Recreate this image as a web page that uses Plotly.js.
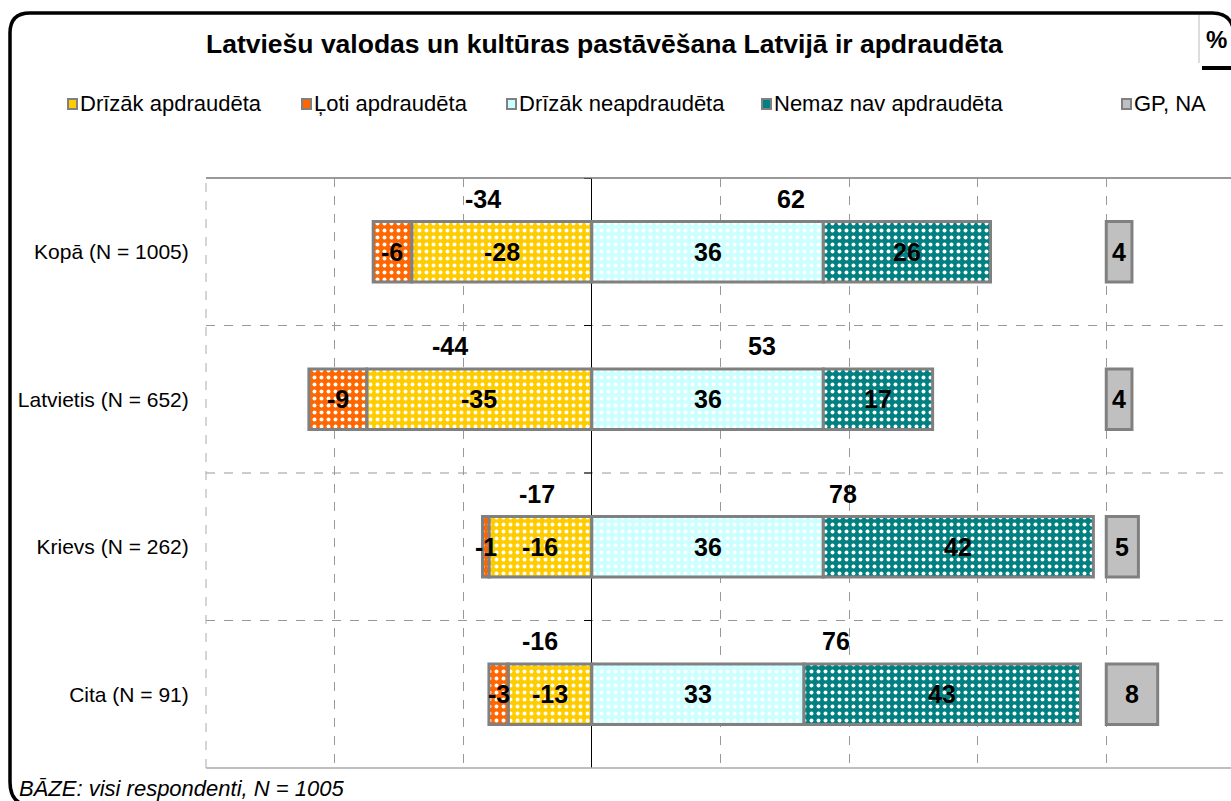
<!DOCTYPE html>
<html>
<head>
<meta charset="utf-8">
<script src="https://cdn.plot.ly/plotly-3.0.1.min.js"></script>
<style>html,body{margin:0;padding:0;background:#fff;}#chart{width:1231px;height:801px;}</style>
</head>
<body>
<div id="chart"></div>
<script>
// ---- data ----
const categories = ['Kopā (N = 1005)', 'Latvietis (N = 652)', 'Krievs (N = 262)', 'Cita (N = 91)'];
const drizakApdraudeta = [-28, -35, -16, -13];
const lotiApdraudeta = [-6, -9, -1, -3];
const drizakNeapdraudeta = [36, 36, 36, 33];
const nemazNavApdraudeta = [26, 17, 42, 43];
const gpNa = [4, 4, 5, 8];
const totalNegative = [-34, -44, -17, -16];
const totalPositive = [62, 53, 78, 76];
const seriesNames = ['Drīzāk apdraudēta', 'Ļoti apdraudēta', 'Drīzāk neapdraudēta', 'Nemaz nav apdraudēta', 'GP, NA'];
const chartTitle = 'Latviešu valodas un kultūras pastāvēšana Latvijā ir apdraudēta';
const baseNote = 'BĀZE: visi respondenti, N = 1005';

// ---- styling / layout helpers ----
const FONT = 'Liberation Sans, Arial, sans-serif';
const colors = ['#FFCC00', '#FF6600', '#CCFFFF', '#008080', '#C0C0C0'];
const gpOffset = 80;
const L = 206, R = 1231, T = 178, B = 768;
const px = x => (x - L) / (R - L);
const py = y => (B - y) / (B - T);

const zeros = categories.map(() => 0);
const gpBase = categories.map(() => gpOffset);

function patternBar(name, x, base, color, patterned) {
  const marker = {color: color, line: {color: '#808080', width: 3}};
  if (patterned) {
    marker.pattern = {shape: '.', fgcolor: '#ffffff', bgcolor: color, size: 7, solidity: 0.25, fillmode: 'replace'};
  }
  return {type: 'bar', orientation: 'h', name: name, y: categories, x: x, base: base,
          width: 0.41, marker: marker, hoverinfo: 'skip', textposition: 'none'};
}

const traces = [
  patternBar(seriesNames[0], drizakApdraudeta, zeros, colors[0], true),
  patternBar(seriesNames[1], lotiApdraudeta, drizakApdraudeta, colors[1], true),
  patternBar(seriesNames[2], drizakNeapdraudeta, zeros, colors[2], true),
  patternBar(seriesNames[3], nemazNavApdraudeta, drizakNeapdraudeta, colors[3], true),
  patternBar(seriesNames[4], gpNa, gpBase, colors[4], false)
];

const annotations = [];
const labelFont = {family: FONT, size: 25, color: '#000'};
function barLabels(vals, bases) {
  vals.forEach((v, i) => {
    annotations.push({x: bases[i] + v / 2, y: categories[i], xref: 'x', yref: 'y', text: '<b>' + v + '</b>',
      showarrow: false, font: labelFont, xanchor: 'center', yanchor: 'middle'});
  });
}
barLabels(drizakApdraudeta, zeros);
barLabels(lotiApdraudeta, drizakApdraudeta);
barLabels(drizakNeapdraudeta, zeros);
barLabels(nemazNavApdraudeta, drizakNeapdraudeta);
barLabels(gpNa, gpBase);
totalNegative.forEach((v, i) => {
  annotations.push({x: v / 2, y: categories[i], xref: 'x', yref: 'y', yshift: 53, text: '<b>' + v + '</b>',
    showarrow: false, font: labelFont, xanchor: 'center', yanchor: 'middle'});
});
totalPositive.forEach((v, i) => {
  annotations.push({x: v / 2, y: categories[i], xref: 'x', yref: 'y', yshift: 53, text: '<b>' + v + '</b>',
    showarrow: false, font: labelFont, xanchor: 'center', yanchor: 'middle'});
});

// title
annotations.push({x: px(604), y: py(44), xref: 'paper', yref: 'paper', text: '<b>' + chartTitle + '</b>',
  showarrow: false, font: {family: FONT, size: 26.5, color: '#000'}, xanchor: 'center', yanchor: 'middle'});
// percent sign
annotations.push({x: px(1216), y: py(40), xref: 'paper', yref: 'paper', text: '<b>%</b>',
  showarrow: false, font: {family: FONT, size: 24, color: '#000'}, xanchor: 'center', yanchor: 'middle'});
// base note
annotations.push({x: px(17), y: py(788), xref: 'paper', yref: 'paper', text: '<i>' + baseNote + '</i>',
  showarrow: false, font: {family: FONT, size: 22, color: '#000'}, xanchor: 'left', yanchor: 'middle'});

// custom legend
const legendX = [68, 302, 507, 762, 1122];
const shapes = [];
seriesNames.forEach((n, i) => {
  shapes.push({type: 'rect', xref: 'paper', yref: 'paper', x0: px(legendX[i]), x1: px(legendX[i] + 9),
    y0: py(109), y1: py(99), fillcolor: colors[i], line: {color: '#808080', width: 2}, layer: 'above'});
  annotations.push({x: px(legendX[i] + 10), y: py(104), xref: 'paper', yref: 'paper', text: n,
    showarrow: false, font: {family: FONT, size: 22, color: '#000'}, xanchor: 'left', yanchor: 'middle'});
});

// plot frame lines
shapes.push({type: 'line', xref: 'paper', yref: 'paper', x0: 0, x1: 1, y0: 1, y1: 1, line: {color: '#999999', width: 2}});
shapes.push({type: 'line', xref: 'paper', yref: 'paper', x0: 0, x1: 1, y0: 0, y1: 0, line: {color: '#aaaaaa', width: 1.5}});
shapes.push({type: 'line', xref: 'paper', yref: 'paper', x0: 0, x1: 0, y0: 0, y1: 1,
  line: {color: '#aaaaaa', width: 1, dash: 'dash'}, layer: 'below'});
[0.5, 1.5, 2.5].forEach(yv => {
  shapes.push({type: 'line', xref: 'paper', yref: 'y', x0: 0, x1: 1, y0: yv, y1: yv,
    line: {color: '#999999', width: 1, dash: 'dash'}, layer: 'below'});
});
[-0.5, 0.5, 1.5, 2.5].forEach(yv => {
  shapes.push({type: 'line', xref: 'x', yref: 'y', x0: -1.2, x1: 0, y0: yv, y1: yv, line: {color: '#000', width: 1}});
});

// outer rounded border
const bp = (x, y) => px(x) + ',' + py(y);
shapes.push({type: 'path', xref: 'paper', yref: 'paper',
  path: 'M' + bp(1212, 13) + ' L' + bp(30, 13) + ' Q' + bp(10, 13) + ' ' + bp(10, 33) +
        ' L' + bp(10, 782) + ' Q' + bp(10, 804) + ' ' + bp(30, 806) + ' L' + bp(1240, 806),
  line: {color: '#000', width: 3.5}});
shapes.push({type: 'path', xref: 'paper', yref: 'paper',
  path: 'M' + bp(1212, 13) + ' Q' + bp(1232, 13) + ' ' + bp(1234, 33),
  line: {color: '#000', width: 3.5}});
// percent box
shapes.push({type: 'line', xref: 'paper', yref: 'paper', x0: px(1199), x1: px(1199), y0: py(15), y1: py(63),
  line: {color: '#bbbbbb', width: 1}});
shapes.push({type: 'line', xref: 'paper', yref: 'paper', x0: px(1202), x1: px(1235), y0: py(68), y1: py(68),
  line: {color: '#000', width: 4}});

const layout = {
  width: 1231, height: 801,
  margin: {l: L, r: 1231 - R, t: T, b: 801 - B, pad: 0},
  paper_bgcolor: '#ffffff', plot_bgcolor: '#ffffff',
  barmode: 'overlay', showlegend: false,
  font: {family: FONT, size: 20, color: '#000'},
  xaxis: {range: [-60, 99.4], dtick: 20, tick0: 0, showticklabels: false, ticks: '',
          showgrid: true, gridcolor: '#999999', griddash: 'dash', gridwidth: 1,
          zeroline: true, zerolinecolor: '#000000', zerolinewidth: 1, showline: false, fixedrange: true},
  yaxis: {type: 'category', categoryorder: 'array', categoryarray: categories, range: [3.5, -0.5],
          showgrid: false, zeroline: false, showline: false, ticks: 'outside', ticklen: 12,
          tickcolor: 'rgba(0,0,0,0)', tickfont: {family: FONT, size: 21, color: '#000'}, fixedrange: true},
  shapes: shapes,
  annotations: annotations
};

Plotly.newPlot('chart', traces, layout, {displayModeBar: false, staticPlot: true});
</script>
</body>
</html>
